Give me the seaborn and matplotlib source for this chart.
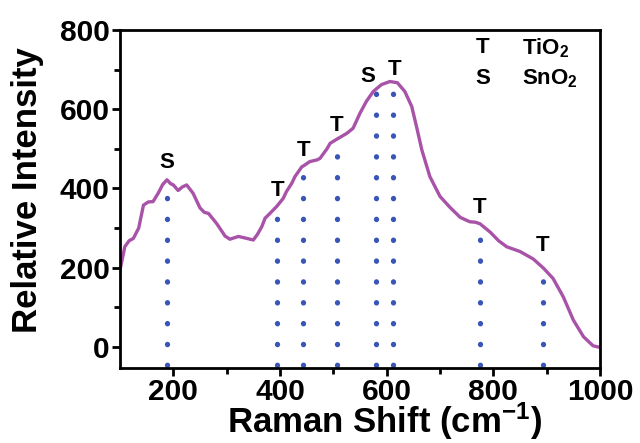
import numpy as np
import pandas as pd
import matplotlib
matplotlib.use("Agg")
import matplotlib.pyplot as plt
import seaborn as sns

# ---- data ----
raman_shift = [100, 109, 117, 125, 135, 144, 153, 162, 172, 180, 188, 195, 200, 209, 217,
               225, 237, 250, 258, 266, 281, 297, 306, 322, 338, 350, 358, 366, 372, 381,
               394, 406, 412, 422, 428, 441, 444, 456, 469, 475, 488, 494, 506, 525, 537,
               550, 562, 575, 590, 606, 620, 634, 647, 656, 666, 681, 700, 719, 738, 756,
               766, 775, 794, 810, 825, 850, 875, 894, 912, 931, 950, 969, 987, 1000]
intensity = [194, 253, 268, 274, 300, 358, 366, 367, 389, 410, 422, 412, 409, 395, 404,
             409, 388, 351, 340, 337, 312, 280, 272, 279, 274, 270, 285, 304, 325, 337,
             355, 375, 392, 413, 430, 455, 457, 468, 472, 476, 500, 514, 524, 539, 552,
             590, 620, 645, 662, 670, 667, 645, 607, 556, 497, 430, 380, 352, 327, 316,
             315, 311, 290, 268, 253, 241, 222, 199, 173, 127, 68, 26, 3, -1]

peak_pos = [188, 395, 444, 506, 580, 611, 775, 893]
peak_label = ["S", "T", "T", "T", "S", "T", "T", "T"]
label_x = [188, 395, 444, 506, 565, 614, 775, 893]
label_y = [465, 396, 497, 558, 682, 700, 351, 255]

legend_keys = ["T", "S"]
legend_names = [r"TiO$_{2}$", r"SnO$_{2}$"]

xticks = [200, 400, 600, 800, 1000]
yticks = [0, 200, 400, 600, 800]

# ---- style ----
sns.set_style("ticks")
plt.rcParams["font.family"] = ["Liberation Sans", "DejaVu Sans"]
plt.rcParams["font.weight"] = "bold"
plt.rcParams["mathtext.fontset"] = "custom"
plt.rcParams["mathtext.rm"] = "Liberation Sans:bold"
plt.rcParams["mathtext.bf"] = "Liberation Sans:bold"
plt.rcParams["mathtext.default"] = "bf"
for key in ["text.color", "axes.labelcolor", "xtick.color", "ytick.color", "axes.edgecolor"]:
    plt.rcParams[key] = "black"

fig = plt.figure(figsize=(6.4, 4.43), dpi=100)
ax = fig.add_axes([120 / 640, 1 - 368 / 443, 480 / 640, 338 / 443])

df = pd.DataFrame({"shift": raman_shift, "intensity": intensity})
sns.lineplot(data=df, x="shift", y="intensity", ax=ax, color="#A852A8", linewidth=2.4)

ymin_line = -45
tops = np.interp(peak_pos, raman_shift, intensity)
for xp, top in zip(peak_pos, tops):
    ax.plot([xp, xp], [ymin_line, top], color="#3A55B8", linewidth=3.8,
            linestyle=(0, (0.05, 3.9)), dash_capstyle="round", zorder=1)

for lx, ly, lab in zip(label_x, label_y, peak_label):
    ax.text(lx, ly, lab, ha="center", va="center", fontsize=16, fontweight="bold")

for i, (k, n) in enumerate(zip(legend_keys, legend_names)):
    yv = 755 - i * 78
    ax.text(780, yv, k, ha="center", va="center", fontsize=16, fontweight="bold")
    ax.text(853, yv, n, ha="left", va="center", fontsize=16, fontweight="bold")

ax.set_xlim(100, 1000)
ax.set_ylim(-53, 800)
ax.set_xticks(xticks)
ax.set_yticks(yticks)
ax.set_xticks([300, 500, 700, 900], minor=True)
ax.set_yticks([100, 300, 500, 700], minor=True)
ax.tick_params(axis="both", which="major", direction="out", length=6, width=2,
               labelsize=21.5, pad=1.5)
ax.tick_params(axis="both", which="minor", direction="out", length=4, width=2)
for lab in ax.get_xticklabels() + ax.get_yticklabels():
    lab.set_fontweight("bold")
for sp in ax.spines.values():
    sp.set_visible(True)
    sp.set_linewidth(2)

ax.set_xlabel("")
ax.set_ylabel("")
fig.text(385 / 640, 1 - 433 / 443, r"Raman Shift (cm$^{-1}$)", fontsize=25,
         fontweight="bold", ha="center", va="baseline")
fig.text(28 / 640, 1 - 190 / 443, "Relative Intensity", fontsize=25,
         fontweight="bold", ha="center", va="center", rotation=90)

fig.savefig("out.png", dpi=100)
